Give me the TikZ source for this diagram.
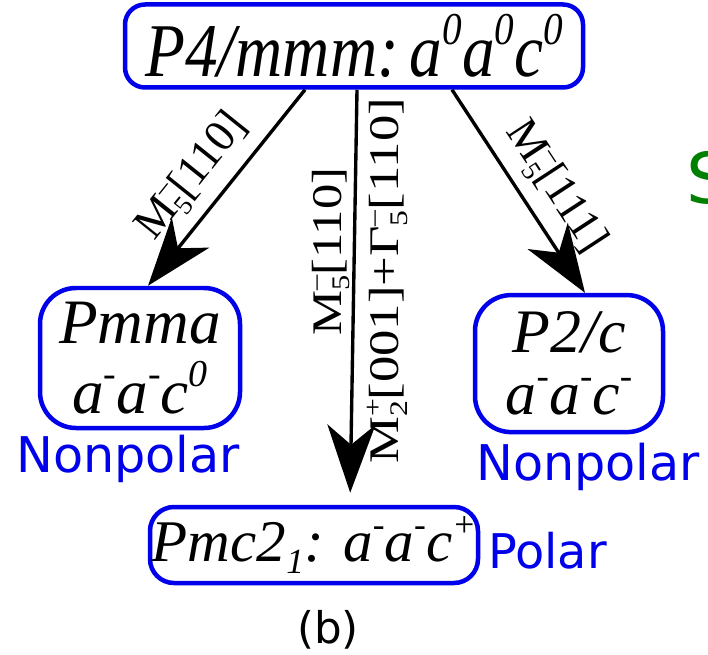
\documentclass[tikz,border=0pt]{standalone}
\usepackage{graphicx}
\usepackage{fontspec}
\setmainfont{Liberation Serif}
\newfontfamily\labelsans{DejaVu Sans}
\usetikzlibrary{arrows.meta}
\definecolor{boxblue}{RGB}{0,0,235}
\definecolor{sgreen}{RGB}{0,128,0}
% small raised / lowered scripts
\newcommand{\sups}[1]{\raisebox{0.42em}{\scalebox{0.6}{#1}}}
\newcommand{\subs}[1]{\raisebox{-0.2em}{\scalebox{0.6}{#1}}}
% irrep with stacked super- and subscript
\newcommand{\irrep}[3]{#1\rlap{\sups{#3}}\subs{#2}}
\tikzset{
  phase/.style={draw=boxblue, line width=3.2pt, align=center, inner sep=0pt},
  trans/.style={-{Stealth[length=1.7cm, width=1.2cm, inset=0.5cm]}, line width=2.4pt},
  arrowlbl/.style={font=\fontsize{32}{32}\selectfont, inner sep=2pt},
  polarity/.style={text=boxblue, anchor=base, inner sep=0pt, font=\labelsans\fontsize{35}{35}\selectfont}
}
\begin{document}
\begin{tikzpicture}
    \useasboundingbox (0,0) rectangle (17.7,-16.375);

    % parent phase
    \node[phase, minimum width=11.45cm, minimum height=2.075cm, rounded corners=0.5cm,
          font=\fontsize{54}{54}\selectfont] (p4mmm) at (8.85,-1.15)
          {\scalebox{0.86}[1]{\textit{P4/mmm:\,a\sups{0}a\sups{0}c\sups{0}}}};

    % subgroups
    \node[phase, minimum width=5cm, minimum height=3.5cm, rounded corners=0.9cm,
          font=\fontsize{45}{50}\selectfont] (pmma) at (3.5,-8.95)
          {\textit{Pmma}\\\textit{a\sups{-}a\sups{-}c\sups{0}}};
    \node[phase, minimum width=4.7cm, minimum height=3.425cm, rounded corners=0.9cm,
          font=\fontsize{44}{44}\selectfont] (p2c) at (14.225,-9.09)
          {\textit{P2/c}\\\textit{a\sups{-}a\sups{-}c\sups{-}}};
    \node[phase, minimum width=8.2cm, minimum height=1.9cm, rounded corners=0.6cm,
          font=\fontsize{42}{42}\selectfont] (pmc) at (7.85,-13.625)
          {\textit{Pmc2\subs{1}: a\sups{-}a\sups{-}c\sups{+}}};

    % transitions
    \draw[trans] ([xshift=-1.225cm]p4mmm.south) -- ([xshift=0.2cm]pmma.north)
        node[arrowlbl, pos=0.55, sloped, above=6pt] {\irrep{M}{5}{–}[110]};
    \draw[trans, shorten >=0.3cm] ([xshift=0.075cm]p4mmm.south) -- ([xshift=0.9cm]pmc.north)
        node[arrowlbl, font=\fontsize{30}{30}\selectfont, pos=0.39, rotate=90, anchor=south]
            {\scalebox{1.2}[1]{\irrep{M}{5}{–}[110]}}
        node[arrowlbl, font=\fontsize{30}{30}\selectfont, pos=0.46, rotate=90, anchor=north, inner sep=8pt]
            {\scalebox{1.25}[1]{\irrep{M}{2}{+}[001]+\irrep{Γ}{5}{–}[110]}};
    \draw[trans] ([xshift=2.45cm]p4mmm.south) -- ([xshift=0.4cm]p2c.north)
        node[arrowlbl, pos=0.57, sloped, above=6pt] {\irrep{M}{5}{–}[111]};

    % polarity
    \node[polarity] (np1) at (3.2,-11.8) {Nonpolar};
    \node[polarity] (np2) at (14.7,-12.0) {Nonpolar};
    \node[polarity, font=\labelsans\fontsize{34}{34}\selectfont, anchor=base west] (pol) at (12.2,-14.2) {Polar};

    \node[anchor=base, inner sep=0pt, font=\labelsans\fontsize{31}{31}\selectfont] (cap) at (8.2,-16.075) {(b)};
    \node[anchor=west, inner sep=0pt, text=sgreen, font=\labelsans\fontsize{50}{50}\selectfont] (s) at (17.15,-4.45) {S};
\end{tikzpicture}
\end{document}
